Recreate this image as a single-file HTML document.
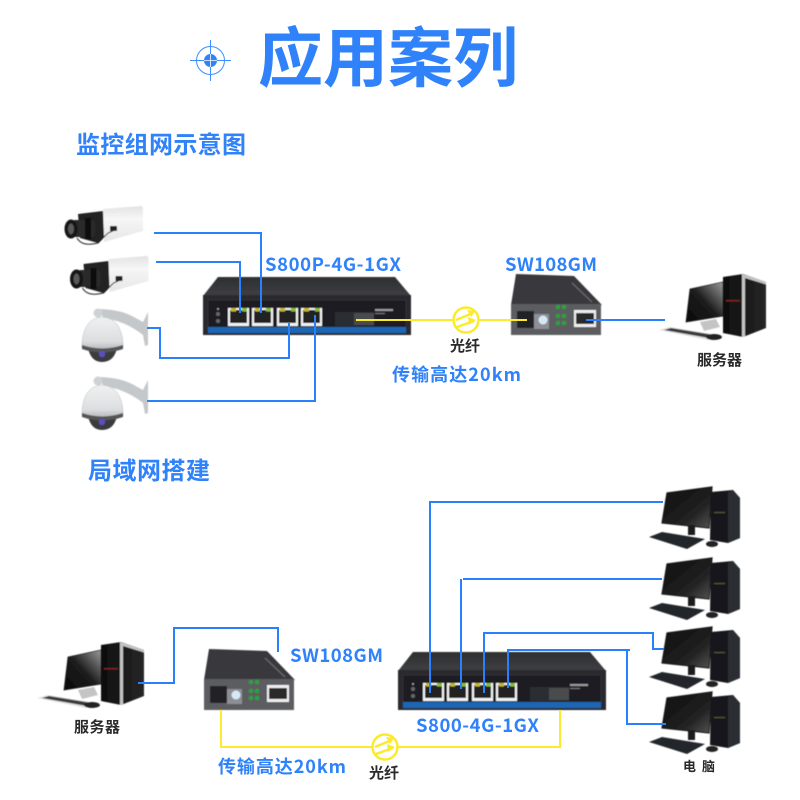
<!DOCTYPE html>
<html><head><meta charset="utf-8">
<style>html,body{margin:0;padding:0;background:#fff}svg{display:block}
text{font-family:"Liberation Sans","Noto Sans CJK SC",sans-serif}
.b{font-family:"Noto Sans CJK SC","Liberation Sans",sans-serif;fill:#2f82f9;font-weight:700}
.k{font-family:"Noto Sans CJK SC","Liberation Sans",sans-serif;fill:#2a2a2a;font-weight:700}
.l{fill:none;stroke:#2a80fb;stroke-width:2}
.y{fill:none;stroke:#fbeb2c;stroke-width:2}
</style></head><body>
<svg width="800" height="800" viewBox="0 0 800 800" xmlns="http://www.w3.org/2000/svg">
<defs>
<linearGradient id="scr" x1="0" y1="0" x2="1" y2="1"><stop offset="0" stop-color="#0c0c0c"/><stop offset=".65" stop-color="#222"/><stop offset="1" stop-color="#555"/></linearGradient>
<linearGradient id="scr2" x1="0" y1="1" x2="1" y2="0"><stop offset="0" stop-color="#0a0a0a"/><stop offset=".5" stop-color="#1c1c1c"/><stop offset="1" stop-color="#9a9a9a"/></linearGradient>
<linearGradient id="twr" x1="0" y1="0" x2="1" y2="0"><stop offset="0" stop-color="#0e0e0e"/><stop offset="1" stop-color="#262626"/></linearGradient>
<linearGradient id="dome" x1="0" y1="0" x2="0" y2="1"><stop offset="0" stop-color="#eef0f1"/><stop offset=".7" stop-color="#dcdee0"/><stop offset="1" stop-color="#a8aaac"/></linearGradient>
<linearGradient id="body" x1="0" y1="0" x2="0" y2="1"><stop offset="0" stop-color="#e2e2e2"/><stop offset=".35" stop-color="#f6f6f6"/><stop offset="1" stop-color="#e6e6e6"/></linearGradient>
<linearGradient id="top" x1="0" y1="0" x2="0" y2="1"><stop offset="0" stop-color="#2e2f32"/><stop offset="1" stop-color="#3f4043"/></linearGradient>
<filter id="s" x="-5%" y="-5%" width="110%" height="110%"><feGaussianBlur stdDeviation=".5"/></filter>

<g id="port"><rect width="21" height="18" fill="#f2f2f2"/><rect x="2" y="2" width="17" height="13" fill="#232323"/><rect x="3" y="0" width="5" height="3.500" fill="#c4b52c"/><rect x="14" y="0" width="5" height="3.500" fill="#86bb3c"/></g>

<g id="sw" filter="url(#s)">
<polygon points="218,277 395,277 411,296 203,296" fill="url(#top)"/>
<rect x="203" y="295" width="208" height="40" fill="#2a2b2e"/>
<rect x="208" y="300" width="198" height="28" fill="#1c1d20" stroke="#3a3b3e" stroke-width=".7"/>
<circle cx="218" cy="309" r="1" fill="#aaa"/><circle cx="218" cy="314" r="2" fill="#666"/><circle cx="218" cy="321" r="2" fill="#666"/>
<use href="#port" x="228" y="308"/><use href="#port" x="252" y="308"/><use href="#port" x="277" y="308"/><use href="#port" x="301" y="308"/>
<rect x="335" y="312" width="39" height="14" fill="#2c2d30"/><rect x="354" y="313" width="20" height="12" fill="#4a4b4e"/>
<rect x="375" y="309" width="18" height="2" fill="#999"/><rect x="375" y="313" width="10" height="1" fill="#777"/>
<rect x="208" y="327" width="198" height="6" fill="#1f66b4"/>
</g>

<g id="mc" filter="url(#s)">
<polygon points="516,274 574,276 602,305 511,305" fill="#38393c"/>
<path d="M572,283L592,302" stroke="#666" stroke-width="1.500"/>
<rect x="511" y="304" width="90" height="31" fill="#5c5d60"/>
<rect x="517" y="311" width="17" height="17" fill="#232325"/>
<rect x="534" y="314" width="15" height="15" fill="#8d8f94"/>
<circle cx="543" cy="320" r="4.500" fill="#d6e7f6"/>
<g fill="#22a53a"><circle cx="558" cy="307" r="2.200"/><circle cx="564" cy="307" r="2.200"/><circle cx="558" cy="316" r="2.200"/><circle cx="564" cy="316" r="2.200"/><circle cx="558" cy="323" r="2.200"/><circle cx="564" cy="323" r="2.200"/></g>
<rect x="574" y="310" width="22" height="17" fill="#eee"/><rect x="576" y="313" width="18" height="11" fill="#2a2a2a"/>
</g>

<g id="cam" filter="url(#s)">
<path d="M103,209 L141,206 Q143,206 143,209 L143,231 L104,242Z" fill="url(#body)"/>
<path d="M78,214 L103,211 L104,237 L98,243 L80,238Z" fill="#232323"/>
<rect x="72" y="220" width="23" height="17" rx="3" fill="#2a2a2a"/>
<rect x="85" y="218" width="6" height="21" fill="#111"/>
<ellipse cx="71" cy="229" rx="6.500" ry="9.500" fill="#141414"/>
<ellipse cx="71" cy="229" rx="3" ry="5.500" fill="#5a5a5a"/>
<path d="M77,238 Q82,247 98,243 L108,233 L117,229" fill="none" stroke="#222" stroke-width="1"/>
<rect x="110" y="226" width="7" height="5" fill="#222"/>
</g>

<g id="dm" filter="url(#s)">
<path d="M97,309 Q118,309 132,316 L143,322 L148,312 L148,345 L145,346 L143,335 Q125,321 104,318Z" fill="#c4c8ca"/>
<ellipse cx="98" cy="313" rx="4.500" ry="4.500" fill="#cfd2d4"/>
<path d="M88,348 H117 Q114,362 102,362 Q91,362 88,348Z" fill="#3a3a3e"/>
<path d="M82,343 Q84,318 102,317 Q121,318 123,343 L123,348 Q102,356 82,348Z" fill="url(#dome)" stroke="#bbb" stroke-width=".5"/>
<path d="M82,345 Q102,352 123,345 L123,349 Q102,356 82,349Z" fill="#555"/>
<circle cx="102" cy="354" r="3.200" fill="#5a50c0"/>
</g>

<g id="srv" filter="url(#s)">
<polygon points="690,289 723,282 723,316 686,322" fill="url(#scr2)" stroke="#222" stroke-width=".8"/>
<polygon points="700,322 716,319 720,327 704,331" fill="#c4c4c4"/>
<polygon points="659,330 670,327 724,336 708,340" fill="#e0e0e0"/>
<polygon points="664,330 671,328 714,335 706,337.500" fill="#3a3a3a"/>
<ellipse cx="714" cy="337" rx="8" ry="3" fill="#222"/>
<polygon points="723,277 743,274 766,282 766,328 743,337 723,333" fill="url(#twr)"/>
<polygon points="742,274 766,282 766,284.500 745,278 745,337 742,337" fill="#c4c4c4"/>
<rect x="726" y="300" width="14" height="1.500" fill="#7a2020"/>
</g>

<g id="pc" filter="url(#s)">
<polygon points="667,493 712,487 709,528 662,523" fill="url(#scr)" stroke="#1a1a1a" stroke-width="1.200"/>
<rect x="688" y="525" width="7" height="10" fill="#1e1e1e"/>
<polygon points="649,537 662,532 705,539 687,549" fill="#23272c"/>
<ellipse cx="712" cy="544" rx="6" ry="3" fill="#222"/>
<polygon points="711,492 733,490 740,498 740,538 728,543 710,540" fill="#15171a"/>
<polygon points="728,492 733,490 740,498 740,538 728,543" fill="#2b2e32"/>
<rect x="714" y="512" width="11" height="1.200" fill="#553"/>
</g>

<g id="fib"><circle r="12.500" fill="#fff" stroke="#fbeb2c" stroke-width="2.500"/>
<path d="M-10,0 L7,-7 M-9,7 L8,1" stroke="#fbeb2c" stroke-width="2.500" fill="none"/>
<path d="M9,-9 L1,-10 L5,-3Z M10,0 L2,-3 L3,5Z" fill="#fbeb2c"/></g>
</defs>

<rect width="800" height="800" fill="#fff"/>

<!-- title -->
<g fill="none" stroke="#3f8ffa">
<circle cx="210.500" cy="60.500" r="14" stroke-width="1"/>
<path d="M190,60.500H231M210.500,40V81" stroke-width="1"/>
</g>
<circle cx="210.500" cy="60.500" r="6.500" fill="#2f82f9"/>
<path d="M204,60.500H217M210.500,54V67" stroke="#fff" stroke-width=".8"/>
<text class="b" x="258" y="81" font-size="65" textLength="260" lengthAdjust="spacingAndGlyphs">应用案列</text>
<text class="b" x="76" y="153" font-size="24" textLength="170">监控组网示意图</text>
<text class="b" x="88" y="479" font-size="24" textLength="122">局域网搭建</text>

<!-- top section devices -->
<use href="#cam"/>
<use href="#cam" x="5.500" y="50"/>
<use href="#dm"/>
<use href="#dm" y="68"/>
<use href="#sw"/>
<use href="#mc"/>
<use href="#srv"/>

<path class="l" d="M154,233H261V313"/>
<path class="l" d="M156,262H240V313"/>
<path class="l" d="M147,328H160V358H289V323"/>
<path class="l" d="M147,401H315V315"/>
<path class="y" d="M356,320H527"/>
<use href="#fib" x="466" y="320"/>
<path class="l" d="M586,320H665"/>

<text class="b" x="265" y="271" font-size="18.500" textLength="136">S800P-4G-1GX</text>
<text class="b" x="505" y="271" font-size="18.500" textLength="92">SW108GM</text>
<text class="k" x="450" y="351" font-size="15" textLength="30">光纤</text>
<text class="b" x="392" y="381" font-size="18" textLength="129">传输高达20km</text>
<text class="k" x="697" y="365" font-size="15" textLength="45">服务器</text>

<!-- bottom section devices -->
<use href="#sw" x="195" y="375"/>
<use href="#mc" x="-307" y="375"/>
<use href="#srv" x="-622" y="368"/>
<use href="#pc"/>
<use href="#pc" y="71"/>
<use href="#pc" y="140"/>
<use href="#pc" y="205"/>

<path class="l" d="M430,693V502H663"/>
<path class="l" d="M461,689V579M463,579H662"/>
<path class="l" d="M484,693V633H653V649H664"/>
<path class="l" d="M508,688V650H630M627,650V724H666"/>
<path class="l" d="M138,683H174V628H278V652"/>
<path class="y" d="M221,710V747H560V710"/>
<use href="#fib" x="385" y="747"/>

<text class="b" x="290" y="662" font-size="18.500" textLength="93">SW108GM</text>
<text class="b" x="416" y="732" font-size="18.500" textLength="123">S800-4G-1GX</text>
<text class="b" x="218" y="773" font-size="18" textLength="128">传输高达20km</text>
<text class="k" x="369" y="778" font-size="15" textLength="30">光纤</text>
<text class="k" x="74" y="732" font-size="15" textLength="46">服务器</text>
<text class="k" x="683" y="771" font-size="13" textLength="32">电 脑</text>
</svg>
</body></html>
